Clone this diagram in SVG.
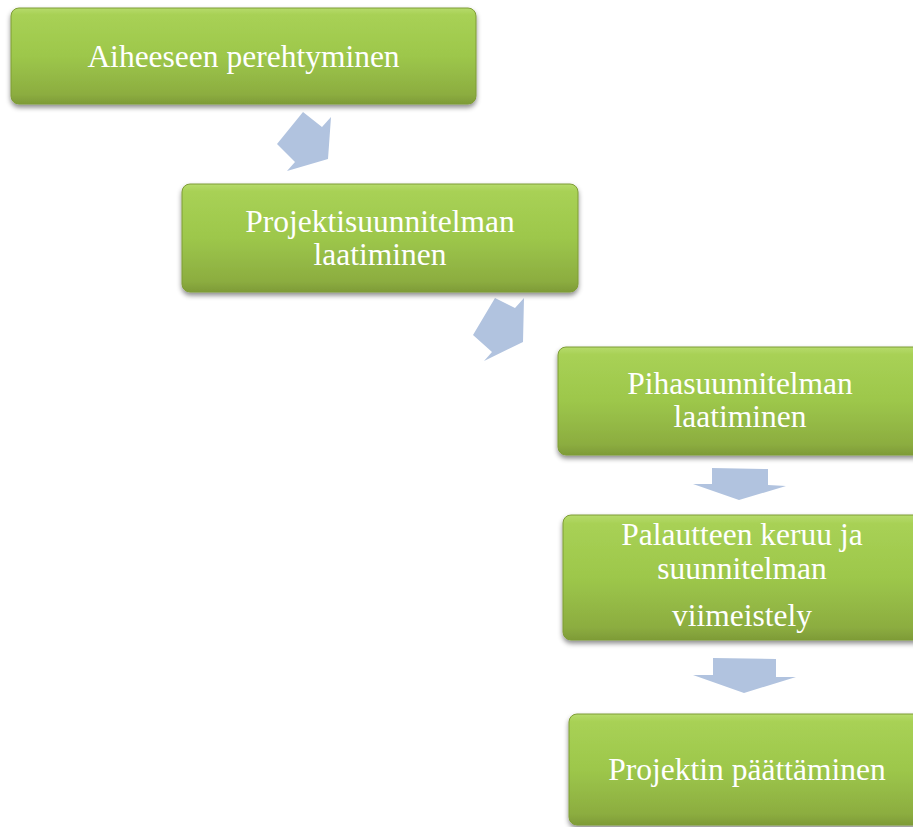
<svg xmlns="http://www.w3.org/2000/svg" width="913" height="827" viewBox="0 0 913 827">
  <defs>
    <linearGradient id="g" x1="0" y1="0" x2="0" y2="1">
      <stop offset="0" stop-color="#b6db6c"/>
      <stop offset="0.07" stop-color="#a8d155"/>
      <stop offset="0.5" stop-color="#9dc74b"/>
      <stop offset="0.9" stop-color="#8cad40"/>
      <stop offset="1" stop-color="#7e9b37"/>
    </linearGradient>
    <filter id="sh" x="-10%" y="-20%" width="120%" height="150%">
      <feDropShadow dx="0" dy="3" stdDeviation="2.5" flood-color="#000" flood-opacity="0.45"/>
    </filter>
    <style>
      .box { fill: url(#g); stroke: #7f9c37; stroke-width: 1; filter: url(#sh); }
      .t { font-family: "Liberation Serif", "Times New Roman", serif; font-size: 31.5px; fill: #ffffff; text-anchor: middle; }
      .arr { fill: #b1c3df; }
    </style>
  </defs>
  <rect width="913" height="827" fill="#ffffff"/>

  <g id="connectors">
    <polygon class="arr" points="303,112 322,127 331,117 328,159 287,171 295,162 277,144"/>
    <polygon class="arr" points="495,298 515,308 524,298 523,342 484,361 492,352 473,335"/>
    <polygon class="arr" points="712,468 768,469 768,485 786,486 739,500 693,484 712,484"/>
    <polygon class="arr" points="713,658 776,659 776,677 796,677 744,693 693,675 713,675"/>
  </g>

  <g id="n1">
    <rect class="box" x="11" y="8" width="465" height="96" rx="8"/>
    <text class="t" x="243.5" y="67">Aiheeseen perehtyminen</text>
  </g>
  <g id="n2">
    <rect class="box" x="182" y="184" width="396" height="108" rx="8"/>
    <text class="t" x="380" y="232">Projektisuunnitelman</text>
    <text class="t" x="380" y="265">laatiminen</text>
  </g>
  <g id="n3">
    <rect class="box" x="558" y="347" width="366" height="108" rx="8"/>
    <text class="t" x="740" y="394">Pihasuunnitelman</text>
    <text class="t" x="740" y="427">laatiminen</text>
  </g>
  <g id="n4">
    <rect class="box" x="563" y="515" width="360" height="125" rx="8"/>
    <text class="t" x="742" y="545">Palautteen keruu ja</text>
    <text class="t" x="742" y="579">suunnitelman</text>
    <text class="t" x="742" y="626">viimeistely</text>
  </g>
  <g id="n5">
    <rect class="box" x="569" y="714" width="356" height="111" rx="8"/>
    <text class="t" x="747" y="780">Projektin päättäminen</text>
  </g>
</svg>
